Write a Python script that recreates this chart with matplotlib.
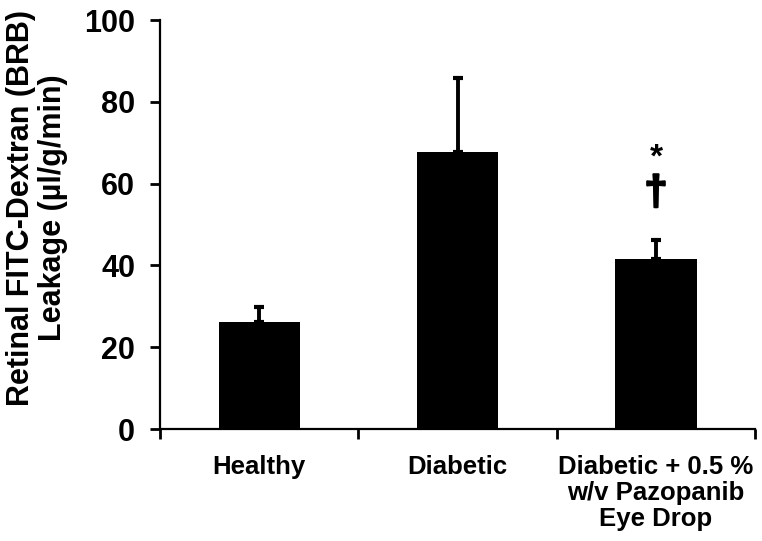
import matplotlib
matplotlib.use('Agg')
import matplotlib.pyplot as plt
import matplotlib.patheffects as pe

# data
categories = ['Healthy', 'Diabetic', 'Diabetic + 0.5 %\nw/v Pazopanib\nEye Drop']
means = [26.2, 67.8, 41.6]
upper_err = [3.7, 18.0, 4.5]
y_ticks = [0, 20, 40, 60, 80, 100]
markers = ['*', '\u2020']  # shown above the treated group

plt.rcParams['font.family'] = ['Liberation Sans', 'DejaVu Sans']
plt.rcParams['font.weight'] = 'bold'

fig = plt.figure(figsize=(7.62, 5.41), dpi=100)
ax = fig.add_axes([0.21, 0.207, 0.781, 0.756])

x = list(range(len(categories)))
ax.bar(x, means, width=0.41, color='black', zorder=2)
ax.errorbar(x, means, yerr=[[0] * len(means), upper_err], fmt='none',
            ecolor='black', elinewidth=2.8, capsize=3.8, capthick=3, zorder=3)

# significance marks over the third bar
ax.text(2, 66.3, markers[0], ha='center', va='center', fontsize=24, fontweight='bold')
ax.text(2, 57.6, markers[1], ha='center', va='center', fontsize=30, fontweight='bold',
        path_effects=[pe.withStroke(linewidth=1.5, foreground='black')])

ax.set_xlim(-0.5, 2.5)
ax.set_ylim(0, 100)
ax.set_yticks(y_ticks)
ax.set_yticklabels([str(v) for v in y_ticks], fontsize=22, fontweight='bold')

# boundary ticks like Excel, labels on category centres
ax.set_xticks([-0.5, 0.5, 1.5, 2.5])
ax.set_xticklabels([])
ax.set_xticks(x, minor=True)
ax.set_xticklabels(categories, minor=True, fontsize=18.5, fontweight='bold',
                   linespacing=1.1, va='top')
ax.tick_params(axis='x', which='minor', length=0, pad=19)
ax.tick_params(axis='x', which='major', length=7, width=2, direction='out')
ax.tick_params(axis='y', length=7, width=2, direction='out', pad=11)

for side in ['top', 'right']:
    ax.spines[side].set_visible(False)
for side in ['left', 'bottom']:
    ax.spines[side].set_linewidth(1.6)

fig.text(37 / 762, 1 - 208 / 541, 'Retinal FITC-Dextran (BRB)\nLeakage (\u00b5l/g/min)',
         rotation=90, ha='center', va='center', fontsize=22, fontweight='bold',
         linespacing=1.08)

fig.savefig('out.png', dpi=100)
